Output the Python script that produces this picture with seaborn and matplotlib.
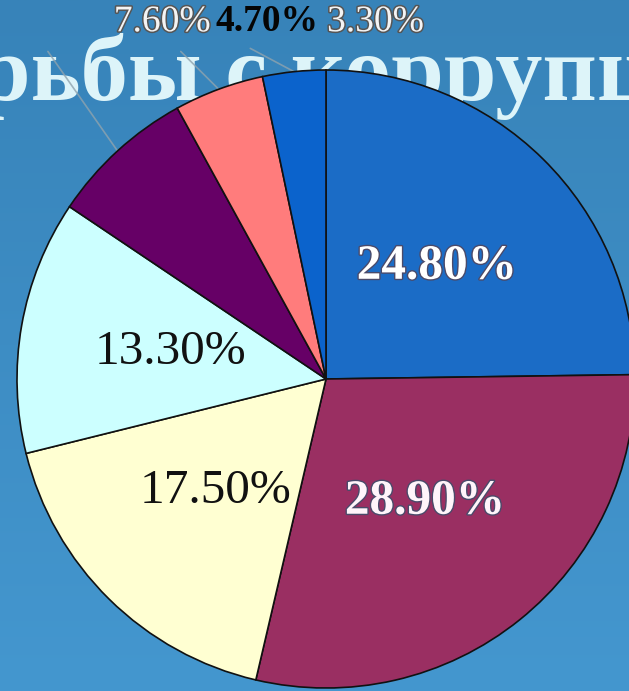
import numpy as np
import matplotlib
matplotlib.use("Agg")
import matplotlib.pyplot as plt
import matplotlib.patheffects as pe
from matplotlib.colors import LinearSegmentedColormap
import seaborn as sns

# shares, clockwise from 12 o'clock
shares = [24.8, 28.9, 17.5, 13.3, 7.6, 4.7, 3.3]
share_labels = ['24.80%', '28.90%', '17.50%', '13.30%', '7.60%', '4.70%', '3.30%']
slice_colors = ['#1B6CC6', '#9A2F62', '#FFFFD2', '#CCFFFF', '#660066', '#FF7C7C', '#0B63CC']
title_text = 'рьбы с коррупц'

sns.set_style('white')
plt.rcParams['font.family'] = ['Liberation Serif', 'DejaVu Serif']

W, H = 629, 691
fig = plt.figure(figsize=(W / 100, H / 100), dpi=100)
ax = fig.add_axes([0, 0, 1, 1])

# pixel geometry of the pie
cx, cy, r = 326, 379, 309
xlim = (-cx / r, (W - cx) / r)
ylim = ((cy - H) / r, cy / r)

# background gradient, darker at the top
bg = LinearSegmentedColormap.from_list('bg', ['#3783B9', '#4497CF'])
grad = np.linspace(0, 1, 256).reshape(-1, 1)
ax.imshow(grad, cmap=bg, extent=[xlim[0], xlim[1], ylim[0], ylim[1]],
          aspect='auto', zorder=0)

# title behind the pie (cut by the slide edges, as in the slide)
ax.text(xlim[0] - 22 / r, (cy - 100) / r, title_text, fontsize=68, fontweight='bold',
        color='#DDF4F9', ha='left', va='baseline', zorder=1, clip_on=True)

wedges, _ = ax.pie(shares, colors=slice_colors, startangle=90, counterclock=False,
                   radius=1, wedgeprops=dict(edgecolor='#111111', linewidth=1.2),
                   normalize=True)
for w in wedges:
    w.set_zorder(2)

# inside labels
inner_style = {
    0: dict(color='white', fontweight='bold'),
    1: dict(color='#FFF4FA', fontweight='bold'),
    2: dict(color='#111111', fontweight='normal'),
    3: dict(color='#111111', fontweight='normal'),
}
for i, st in inner_style.items():
    w = wedges[i]
    ang = np.deg2rad((w.theta1 + w.theta2) / 2)
    t = ax.text(0.51 * np.cos(ang), 0.51 * np.sin(ang), share_labels[i], fontsize=35.5,
                ha='center', va='center', zorder=4, **st)
    if st['color'] != '#111111':
        t.set_path_effects([pe.withStroke(linewidth=2, foreground='#4a4a6a')])

# outside labels with leader lines
out_x = [-0.53, -0.19, 0.16]
line_end = [(-0.90, 1.06), (-0.47, 1.06), (-0.245, 1.07)]
out_style = [
    dict(color='#F4F4F4', fontweight='normal', stroke='#555555'),
    dict(color='#050505', fontweight='bold', stroke=None),
    dict(color='#F4F4F4', fontweight='normal', stroke='#555555'),
]
for k, i in enumerate([4, 5, 6]):
    w = wedges[i]
    ang = np.deg2rad((w.theta1 + w.theta2) / 2)
    ex, ey = np.cos(ang), np.sin(ang)
    ax.plot([ex, line_end[k][0]], [ey, line_end[k][1]], color='#8FA3AE', lw=1.2,
            alpha=0.8, zorder=1.5)
    st = out_style[k]
    t = ax.text(out_x[k], (cy - 22) / r, share_labels[i], fontsize=27,
                fontweight=st['fontweight'], color=st['color'],
                ha='center', va='center', zorder=4)
    if st['stroke']:
        t.set_path_effects([pe.withStroke(linewidth=2.2, foreground=st['stroke'])])

ax.set_xlim(*xlim)
ax.set_ylim(*ylim)
ax.set_aspect('auto')
ax.axis('off')

plt.savefig('out.png', dpi=100)
